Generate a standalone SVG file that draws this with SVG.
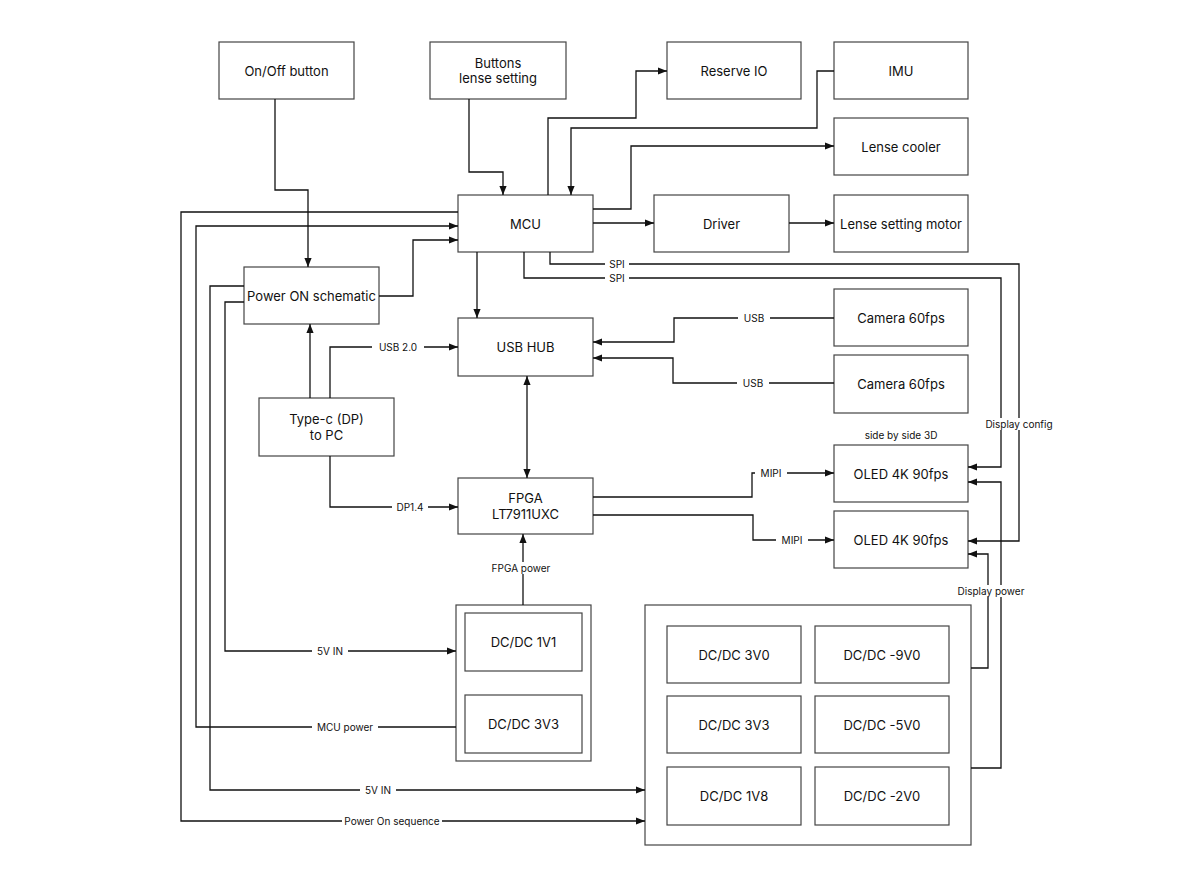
<svg xmlns="http://www.w3.org/2000/svg" width="1200" height="888" viewBox="0 0 1200 888">
<style>
.b{fill:#fff;stroke:#444;stroke-width:1.2}
.t{font-family:Inter,"Liberation Sans",sans-serif;font-size:13px;fill:#111;text-anchor:middle;dominant-baseline:central}
.l{font-family:Inter,"Liberation Sans",sans-serif;font-size:10px;fill:#111;text-anchor:middle;dominant-baseline:central}
.c path{fill:none;stroke:#111;stroke-width:1.3}
.lb{fill:#fff}
</style>
<defs>
<marker id="a" viewBox="0 0 10 10" refX="10" refY="5" markerWidth="7" markerHeight="7" orient="auto-start-reverse"><path d="M0,1L10,5L0,9z" fill="#111"/></marker>
</defs>
<rect width="1200" height="888" fill="#fff"/>
<g id="onoff"><rect class="b" x="219" y="42" width="135" height="57"/><text class="t" x="286.5" y="70.5">On/Off button</text></g>
<g id="buttons"><rect class="b" x="430" y="42" width="136" height="57"/><text class="t" x="498" y="63">Buttons</text><text class="t" x="498" y="78">lense setting</text></g>
<g id="reserve"><rect class="b" x="667" y="42" width="134" height="57"/><text class="t" x="734" y="70.5">Reserve IO</text></g>
<g id="imu"><rect class="b" x="834" y="42" width="134" height="57"/><text class="t" x="901" y="70.5">IMU</text></g>
<g id="cooler"><rect class="b" x="834" y="118" width="134" height="57"/><text class="t" x="901" y="146.5">Lense cooler</text></g>
<g id="mcu"><rect class="b" x="458" y="195" width="135" height="57"/><text class="t" x="525.5" y="223.5">MCU</text></g>
<g id="driver"><rect class="b" x="654" y="195" width="135" height="57"/><text class="t" x="721.5" y="223.5">Driver</text></g>
<g id="motor"><rect class="b" x="834" y="195" width="134" height="57"/><text class="t" x="901" y="223.5">Lense setting motor</text></g>
<g id="poweron"><rect class="b" x="244" y="267" width="135" height="57"/><text class="t" x="311.5" y="295.5">Power ON schematic</text></g>
<g id="usbhub"><rect class="b" x="458" y="318" width="135" height="58"/><text class="t" x="525.5" y="347">USB HUB</text></g>
<g id="cam1"><rect class="b" x="834" y="289" width="134" height="57"/><text class="t" x="901" y="317.5">Camera 60fps</text></g>
<g id="cam2"><rect class="b" x="834" y="355" width="134" height="58"/><text class="t" x="901" y="384">Camera 60fps</text></g>
<g id="typec"><rect class="b" x="259" y="398" width="135" height="58"/><text class="t" x="326.5" y="419">Type-c (DP)</text><text class="t" x="326.5" y="435">to PC</text></g>
<g id="fpga"><rect class="b" x="458" y="478" width="135" height="56"/><text class="t" x="525.5" y="498">FPGA</text><text class="t" x="525.5" y="514">LT7911UXC</text></g>
<g id="oled1"><text class="l" x="901" y="435">side by side 3D</text><rect class="b" x="834" y="445" width="134" height="57"/><text class="t" x="901" y="473.5">OLED 4K 90fps</text></g>
<g id="oled2"><rect class="b" x="834" y="511" width="134" height="57"/><text class="t" x="901" y="539.5">OLED 4K 90fps</text></g>
<g id="dcgroup1"><rect class="b" x="456" y="605" width="135" height="156" stroke="#111"/>
<rect class="b" x="465" y="613" width="117" height="58"/><text class="t" x="523.5" y="642">DC/DC 1V1</text>
<rect class="b" x="465" y="695" width="117" height="58"/><text class="t" x="523.5" y="724">DC/DC 3V3</text></g>
<g id="dcgroup2"><rect class="b" x="645" y="605" width="326" height="240" stroke="#111"/>
<rect class="b" x="667" y="626" width="134" height="57"/><text class="t" x="734" y="654.5">DC/DC 3V0</text>
<rect class="b" x="815" y="626" width="134" height="57"/><text class="t" x="882" y="654.5">DC/DC -9V0</text>
<rect class="b" x="667" y="696" width="134" height="57"/><text class="t" x="734" y="724.5">DC/DC 3V3</text>
<rect class="b" x="815" y="696" width="134" height="57"/><text class="t" x="882" y="724.5">DC/DC -5V0</text>
<rect class="b" x="667" y="767" width="134" height="58"/><text class="t" x="734" y="796">DC/DC 1V8</text>
<rect class="b" x="815" y="767" width="134" height="58"/><text class="t" x="882" y="796">DC/DC -2V0</text></g>
<g id="connectors" class="c">
<path d="M275,99V190H308V267" marker-end="url(#a)"/>
<path d="M469,99V172H503V195" marker-end="url(#a)"/>
<path d="M548,195V118H636V71H667" marker-end="url(#a)"/>
<path d="M834,71H817V128H571V195" marker-end="url(#a)"/>
<path d="M593,209H631V146H834" marker-end="url(#a)"/>
<path d="M593,223H654" marker-end="url(#a)"/>
<path d="M789,223H834" marker-end="url(#a)"/>
<path d="M458,212H181V821H645" marker-end="url(#a)"/>
<path d="M456,727H196V226H458" marker-end="url(#a)"/>
<path d="M244,286H210V790H645" marker-end="url(#a)"/>
<path d="M244,302H225V651H456" marker-end="url(#a)"/>
<path d="M379,296H413V240H458" marker-end="url(#a)"/>
<path d="M477,252V318" marker-end="url(#a)"/>
<path d="M310,398V324" marker-end="url(#a)"/>
<path d="M330,398V347H458" marker-end="url(#a)"/>
<path d="M330,456V507H458" marker-end="url(#a)"/>
<path d="M527,376V478" marker-start="url(#a)" marker-end="url(#a)"/>
<path d="M834,318H674V342H593" marker-end="url(#a)"/>
<path d="M834,383H673V358H593" marker-end="url(#a)"/>
<path d="M593,497H752V473H834" marker-end="url(#a)"/>
<path d="M593,515H753V540H834" marker-end="url(#a)"/>
<path d="M523,605V534" marker-end="url(#a)"/>
<path d="M550,252V264H1019V541H968" marker-end="url(#a)"/>
<path d="M524,252V278H1001V467H968" marker-end="url(#a)"/>
<path d="M971,668H988V554H968" marker-end="url(#a)"/>
<path d="M971,768H1001V482H968" marker-end="url(#a)"/>
</g>
<g id="labels">
<rect class="lb" x="605" y="258" width="24" height="12"/><text class="l" x="617" y="264">SPI</text>
<rect class="lb" x="605" y="272" width="24" height="12"/><text class="l" x="617" y="278">SPI</text>
<rect class="lb" x="372" y="341" width="52" height="12"/><text class="l" x="398" y="347">USB 2.0</text>
<rect class="lb" x="392" y="501" width="36" height="12"/><text class="l" x="410" y="507">DP1.4</text>
<rect class="lb" x="738" y="312" width="32" height="12"/><text class="l" x="754" y="318">USB</text>
<rect class="lb" x="737" y="377" width="32" height="12"/><text class="l" x="753" y="383">USB</text>
<rect class="lb" x="755" y="467" width="32" height="12"/><text class="l" x="771" y="473">MIPI</text>
<rect class="lb" x="776" y="534" width="32" height="12"/><text class="l" x="792" y="540">MIPI</text>
<rect class="lb" x="487" y="562" width="70" height="12"/><text class="l" x="521" y="568">FPGA power</text>
<rect class="lb" x="983" y="418" width="72" height="12"/><text class="l" x="1019" y="424">Display config</text>
<rect class="lb" x="955" y="585" width="72" height="12"/><text class="l" x="991" y="591">Display power</text>
<rect class="lb" x="312" y="645" width="36" height="12"/><text class="l" x="330" y="651">5V IN</text>
<rect class="lb" x="312" y="721" width="66" height="12"/><text class="l" x="345" y="727">MCU power</text>
<rect class="lb" x="360" y="784" width="36" height="12"/><text class="l" x="378" y="790">5V IN</text>
<rect class="lb" x="342" y="815" width="100" height="12"/><text class="l" x="392" y="821">Power On sequence</text>
</g>
</svg>
